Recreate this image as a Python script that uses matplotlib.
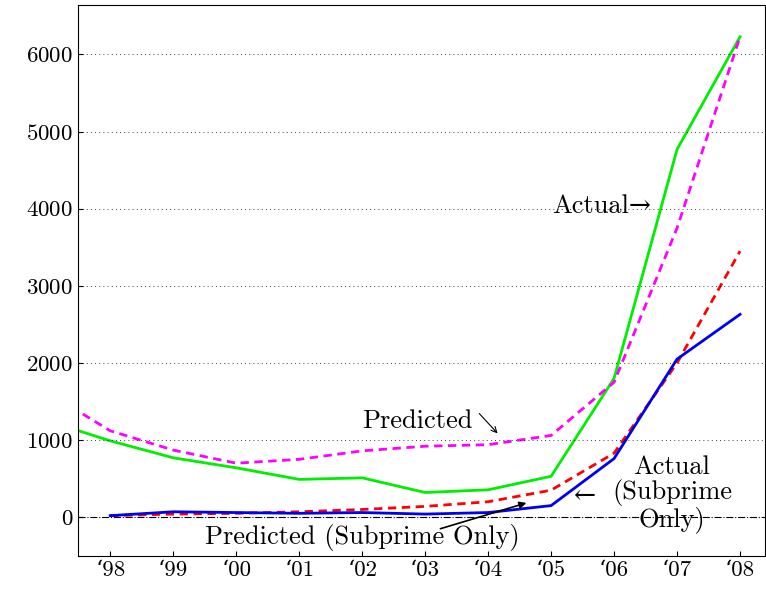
import matplotlib.pyplot as plt
import numpy as np

plt.rcParams['font.family'] = ['cmr10', 'DejaVu Serif']
plt.rcParams['mathtext.fontset'] = 'cm'
plt.rcParams['axes.formatter.use_mathtext'] = True

years = [1997, 1998, 1999, 2000, 2001, 2002, 2003, 2004, 2005, 2006, 2007, 2008]
actual = [1250, 990, 770, 640, 490, 510, 320, 355, 530, 1800, 4770, 6230]
predicted = [1620, 1120, 870, 700, 750, 860, 920, 940, 1060, 1750, 3750, 6230]
sub_years = years[1:]
sub_pred = [20, 40, 50, 70, 100, 140, 200, 350, 830, 2000, 3450]
sub_actual = [20, 70, 60, 50, 60, 40, 60, 150, 760, 2050, 2630]
tick_labels = ["\u201898", "\u201899", "\u201800", "\u201801", "\u201802", "\u201803",
               "\u201804", "\u201805", "\u201806", "\u201807", "\u201808"]

fig, ax = plt.subplots(figsize=(7.66, 5.95), dpi=100)
fig.subplots_adjust(left=0.102, right=0.999, top=0.992, bottom=0.066)

ax.plot(years, actual, color='#00ee00', lw=2)
ax.plot(years, predicted, color='#ff00ff', lw=2, ls='--', dashes=(3, 2))
ax.plot(sub_years, sub_pred, color='#ff0000', lw=2, ls='--', dashes=(3, 2))
ax.plot(sub_years, sub_actual, color='#0000ee', lw=2)
ax.axhline(0, color='black', lw=0.8, ls='-.')
for y in range(1000, 7000, 1000):
    ax.axhline(y, color='black', lw=0.6, ls=(0, (1, 4)))

ax.set_xlim(1997.49, 2008.4)
ax.set_ylim(-500, 6645)
ax.set_xticks(sub_years)
ax.set_xticklabels(tick_labels)
ax.set_yticks(range(0, 7000, 1000))
ax.tick_params(direction='in', labelsize=16.5)

fs = 19
ax.text(2005.02, 4040, "Actual\u2192", fontsize=fs, va='center')
ax.text(2002.0, 1240, "Predicted", fontsize=fs, va='center')
ax.annotate("", xy=(2004.18, 1060), xytext=(2003.83, 1370),
            arrowprops=dict(arrowstyle='->', lw=0.8))
ax.text(2006.92, 300, "Actual\n(Subprime\nOnly)", fontsize=fs, ha='center', va='center',
        linespacing=1.0)
ax.text(2005.35, 280, "\u2190", fontsize=fs, va='center')
ax.text(1999.5, -260, "Predicted (Subprime Only)", fontsize=fs, va='center')
ax.annotate("", xy=(2004.65, 195), xytext=(2003.2, -160),
            arrowprops=dict(arrowstyle='-|>', lw=1.2, color='black'))

fig.savefig('out.png')
